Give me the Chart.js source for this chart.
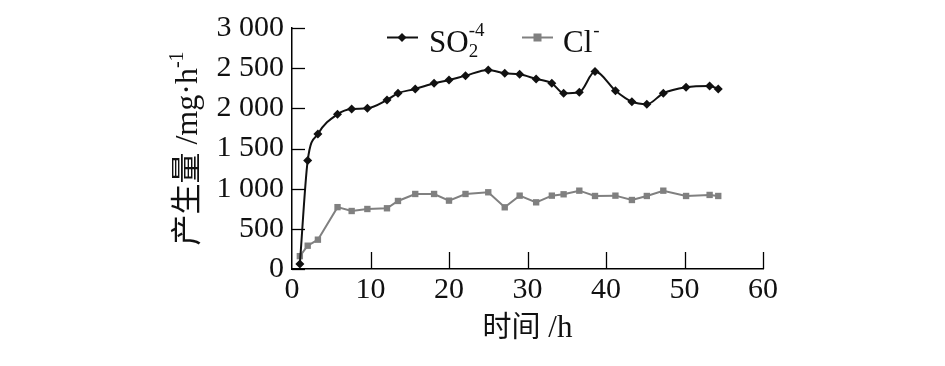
<!DOCTYPE html>
<html>
<head>
<meta charset="utf-8">
<script src="https://cdn.jsdelivr.net/npm/chart.js@4.4.1/dist/chart.umd.min.js"></script>
<style>
  html, body { margin: 0; padding: 0; background: #fff; }
  #wrap { width: 945px; height: 366px; }
</style>
</head>
<body>
<div id="wrap"><canvas id="chart" width="945" height="366"></canvas></div>
<script>
// --- 数据 ---
const hours = [1, 2, 3.3, 5.8, 7.6, 9.6, 12.1, 13.5, 15.7, 18.1, 20, 22.1, 25, 27.1, 29, 31.1, 33.1, 34.6, 36.6, 38.6, 41.2, 43.3, 45.2, 47.3, 50.2, 53.2, 54.3];
const so4Values = [62, 1350, 1680, 1926, 1992, 2000, 2104, 2188, 2241, 2312, 2353, 2407, 2478, 2437, 2424, 2366, 2312, 2188, 2200, 2457, 2220, 2083, 2051, 2188, 2263, 2279, 2241];
const clValues = [160, 290, 365, 770, 722, 747, 756, 847, 934, 934, 851, 934, 955, 768, 913, 830, 913, 930, 975, 909, 913, 859, 909, 975, 909, 922, 909];
const xTicks = [0, 10, 20, 30, 40, 50, 60];
const yTicks = [0, 500, 1000, 1500, 2000, 2500, 3000];

const SERIF = '"Liberation Serif", "DejaVu Serif", serif';
const CJK = '"Noto Sans CJK SC", sans-serif';

const toPoints = vals => vals.map((v, i) => ({ x: hours[i], y: v }));

// 内向刻度线 + 标题 + 图例
const decorPlugin = {
  id: 'decor',
  afterDraw(chart) {
    const ctx = chart.ctx;
    const xs = chart.scales.x, ys = chart.scales.y;
    const area = chart.chartArea;
    ctx.save();
    ctx.strokeStyle = '#000';
    ctx.lineWidth = 1.3;
    yTicks.forEach(v => {
      const py = Math.round(ys.getPixelForValue(v)) + 0.5;
      ctx.beginPath(); ctx.moveTo(area.left, py); ctx.lineTo(area.left + 13, py); ctx.stroke();
    });
    xTicks.forEach(v => {
      if (v === 0) return;
      const px = Math.round(xs.getPixelForValue(v)) + 0.5;
      ctx.beginPath(); ctx.moveTo(px, area.bottom); ctx.lineTo(px, area.bottom - 17); ctx.stroke();
    });

    ctx.fillStyle = '#111';
    ctx.textBaseline = 'alphabetic';

    // x 轴标题
    const xt1 = '时间', xt2 = ' /h';
    ctx.font = '29px ' + CJK;
    const w1 = ctx.measureText(xt1).width;
    ctx.font = '31px ' + SERIF;
    const w2 = ctx.measureText(xt2).width;
    let sx = (area.left + area.right) / 2 - (w1 + w2) / 2;
    ctx.font = '29px ' + CJK;
    ctx.fillText(xt1, sx, 337);
    ctx.font = '31px ' + SERIF;
    ctx.fillText(xt2, sx + w1, 337);

    // y 轴标题（旋转）
    ctx.save();
    ctx.translate(197, (area.top + area.bottom) / 2);
    ctx.rotate(-Math.PI / 2);
    const yt1 = '产生量', yt2 = ' /mg·h', yt3 = '-1';
    ctx.font = '31px ' + CJK;
    const a = ctx.measureText(yt1).width;
    ctx.font = '32px ' + SERIF;
    const b = ctx.measureText(yt2).width;
    ctx.font = '20px ' + SERIF;
    const c = ctx.measureText(yt3).width;
    let s = -(a + b + c) / 2;
    ctx.font = '31px ' + CJK;
    ctx.fillText(yt1, s, 0);
    ctx.font = '32px ' + SERIF;
    ctx.fillText(yt2, s + a, 0);
    ctx.font = '20px ' + SERIF;
    ctx.fillText(yt3, s + a + b, -14);
    ctx.restore();

    // 图例
    const ly = 37.5;
    ctx.lineWidth = 2;
    ctx.strokeStyle = '#111';
    ctx.beginPath(); ctx.moveTo(387, ly); ctx.lineTo(418, ly); ctx.stroke();
    ctx.fillStyle = '#111';
    ctx.beginPath();
    ctx.moveTo(402, ly - 4.5); ctx.lineTo(406.5, ly); ctx.lineTo(402, ly + 4.5); ctx.lineTo(397.5, ly);
    ctx.closePath(); ctx.fill();
    ctx.font = '31px ' + SERIF;
    ctx.fillText('SO', 429, 52);
    const so = ctx.measureText('SO').width;
    ctx.font = '19px ' + SERIF;
    ctx.fillText('2', 429 + so, 57);
    ctx.fillText('-4', 429 + so, 36);

    ctx.strokeStyle = '#808080';
    ctx.fillStyle = '#808080';
    ctx.beginPath(); ctx.moveTo(522, ly); ctx.lineTo(553, ly); ctx.stroke();
    ctx.fillRect(533.5, ly - 4, 8, 8);
    ctx.fillStyle = '#111';
    ctx.font = '31px ' + SERIF;
    ctx.fillText('Cl', 563, 52);
    const cl = ctx.measureText('Cl').width;
    ctx.font = '19px ' + SERIF;
    ctx.fillText('-', 563 + cl + 1, 36);
    ctx.restore();
  }
};

new Chart(document.getElementById('chart'), {
  type: 'line',
  data: {
    datasets: [
      {
        label: 'SO4',
        data: toPoints(so4Values),
        borderColor: '#111',
        backgroundColor: '#111',
        borderWidth: 2,
        pointStyle: 'rectRot',
        pointRadius: 4.5,
        pointBorderWidth: 0,
        cubicInterpolationMode: 'monotone'
      },
      {
        label: 'Cl',
        data: toPoints(clValues),
        borderColor: '#808080',
        backgroundColor: '#808080',
        borderWidth: 2,
        pointStyle: 'rect',
        pointRadius: 4.5,
        pointBorderWidth: 0,
        tension: 0
      }
    ]
  },
  options: {
    responsive: false,
    animation: false,
    devicePixelRatio: 1,
    layout: { padding: { left: 150, right: 182, top: 28, bottom: 0 } },
    plugins: {
      legend: { display: false },
      tooltip: { enabled: false }
    },
    scales: {
      x: {
        type: 'linear',
        min: 0,
        max: 60,
        afterBuildTicks: s => { s.ticks = xTicks.map(v => ({ value: v })); },
        afterFit: s => { s.height = 97; },
        grid: { display: false, drawTicks: false },
        border: { display: true, color: '#000', width: 1.5 },
        ticks: { color: '#111', font: { family: SERIF, size: 30 }, padding: 3, maxRotation: 0 }
      },
      y: {
        min: 0,
        max: 3000,
        afterBuildTicks: s => { s.ticks = yTicks.map(v => ({ value: v })); },
        afterFit: s => { s.width = 142; },
        grid: { display: false, drawTicks: false },
        border: { display: true, color: '#000', width: 1.5 },
        ticks: {
          color: '#111',
          font: { family: SERIF, size: 30 },
          padding: 8,
          callback: v => v >= 1000 ? Math.floor(v / 1000) + ' ' + String(v % 1000).padStart(3, '0') : String(v)
        }
      }
    }
  },
  plugins: [decorPlugin]
});
</script>
</body>
</html>
